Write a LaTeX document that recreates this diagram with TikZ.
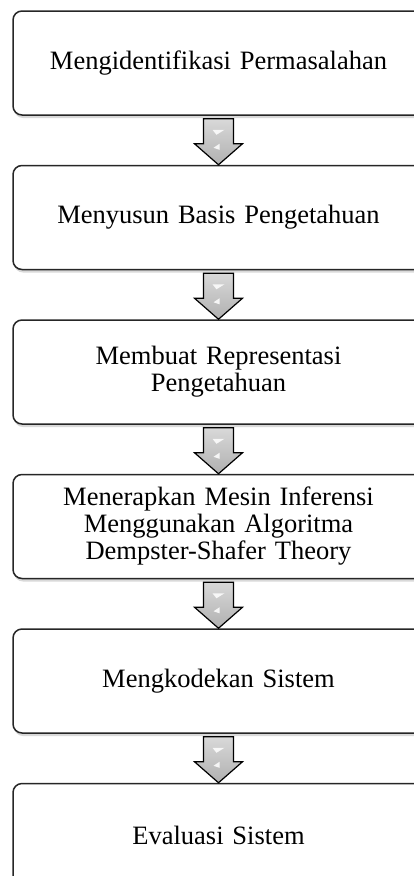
\documentclass[tikz,border=0pt]{standalone}
\usepackage{fontspec}
\setmainfont{Liberation Serif}
\usepackage{tikz}
\usetikzlibrary{positioning,calc,shadows}

\begin{document}
\begin{tikzpicture}[x=1pt,y=1pt,
    stepbox/.style={draw=black!85, line width=1.5pt, rounded corners=9pt, fill=white,
        drop shadow={shadow xshift=1pt, shadow yshift=-3pt, opacity=0.3},
        minimum width=411pt, minimum height=104pt, text width=380pt, align=center,
        font=\fontsize{26.5}{27}\selectfont},
    blockarrow/.style={draw=black, line width=1.2pt, line join=miter, top color=gray!30, bottom color=gray!62}]
    \useasboundingbox (0,0) rectangle (414,-876);
    \node[stepbox] (s1) at (218.5,-63) {Mengidentifikasi Permasalahan};
    \node[stepbox, below=49pt of s1] (s2) {Menyusun Basis Pengetahuan};
    \node[stepbox, below=49pt of s2] (s3) {Membuat Representasi\\Pengetahuan};
    \node[stepbox, below=49pt of s3] (s4) {Menerapkan Mesin Inferensi\\Menggunakan Algoritma\\Dempster-Shafer Theory};
    \node[stepbox, below=49pt of s4] (s5) {Mengkodekan Sistem};
    \node[stepbox, below=49pt of s5] (s6) {Evaluasi Sistem};
    % block arrows between the steps
    \foreach \a/\b in {s1/s2,s2/s3,s3/s4,s4/s5,s5/s6}{
        \draw[blockarrow] ($(\a.south)+(-15,-3)$) -- ($(\a.south)+(15,-3)$) -- ($(\b.north)+(15,21)$)
            -- ($(\b.north)+(24,21)$) -- (\b.north) -- ($(\b.north)+(-24,21)$) -- ($(\b.north)+(-15,21)$) -- cycle;
        \fill[white, opacity=0.85] ($(\b.north)+(-6,35)$) -- ($(\b.north)+(6,35)$) -- ($(\b.north)+(-2,30)$) -- cycle;
        \fill[white, opacity=0.85] ($(\b.north)+(1,21)$) -- ($(\b.north)+(1,15)$) -- ($(\b.north)+(-5,17)$) -- cycle;
    }
\end{tikzpicture}
\end{document}
